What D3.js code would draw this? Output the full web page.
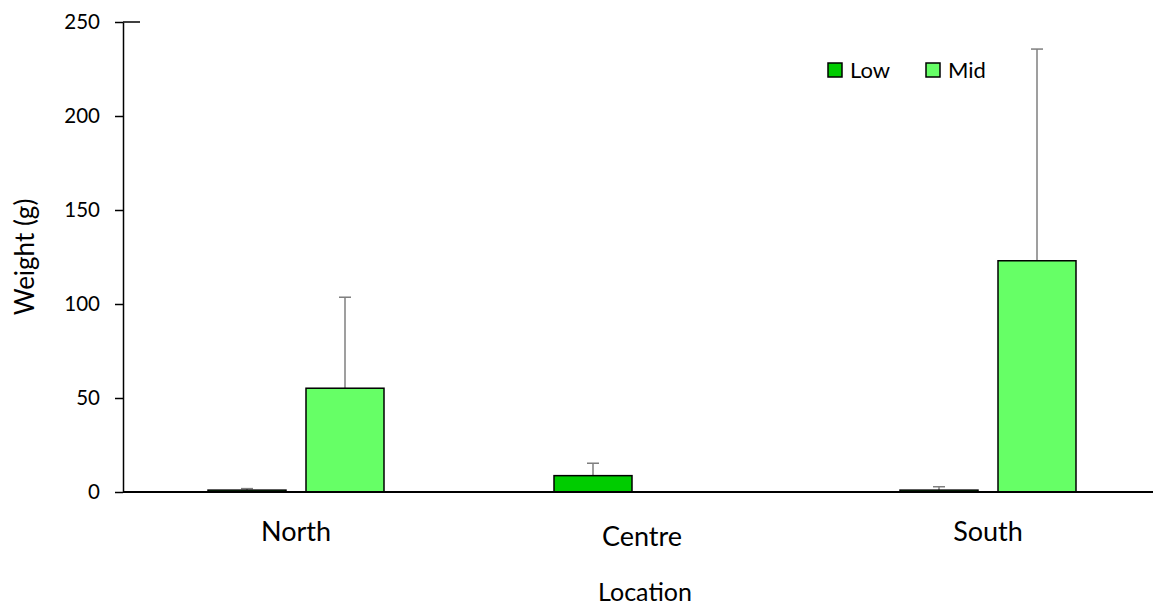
<!DOCTYPE html>
<html>
<head>
<meta charset="utf-8">
<script src="https://cdn.jsdelivr.net/npm/d3@7/dist/d3.min.js"></script>
<style>
  html, body { margin: 0; padding: 0; background: #fff; }
  svg { display: block; font-family: Lato, "Open Sans", sans-serif; }
</style>
</head>
<body>
<svg id="chart" width="1153" height="609"></svg>
<script>
// Mean weight by location and altitude band, with one-sided error bars
const categories = ["North", "Centre", "South"];
const seriesNames = ["Low", "Mid"];
const lowValues = [1.0, 8.7, 1.0];
const midValues = [55.2, null, 123.0];
const lowErrorTop = [1.8, 15.3, 2.8];
const midErrorTop = [103.6, null, 235.6];
const yTicks = [0, 50, 100, 150, 200, 250];
const seriesColors = ["#00cc00", "#66ff66"];

const svg = d3.select("#chart");
const plotLeft = 123, plotRight = 1161, plotTop = 22, plotBottom = 492;

const x0 = d3.scaleBand().domain(categories).range([plotLeft, plotRight]).padding(0);
const x1 = d3.scaleBand().domain(seriesNames).range([-88, 88]).paddingInner(20 / 98);
const y = d3.scaleLinear().domain([0, 250]).range([plotBottom, plotTop]);

const rows = categories.map((c, i) => ({
  cat: c,
  vals: [
    { s: "Low", v: lowValues[i], e: lowErrorTop[i], color: seriesColors[0] },
    { s: "Mid", v: midValues[i], e: midErrorTop[i], color: seriesColors[1] }
  ]
}));

// Error bars (drawn under bars so the stem starts at the bar top)
const eb = svg.append("g");
rows.forEach(r => {
  r.vals.filter(d => d.v != null).forEach(d => {
    const cx = x0(r.cat) + x0.bandwidth() / 2 + x1(d.s) + x1.bandwidth() / 2;
    eb.append("line").attr("x1", cx).attr("x2", cx)
      .attr("y1", y(d.v)).attr("y2", y(d.e))
      .attr("stroke", "#7f7f7f").attr("stroke-width", 1.5);
    eb.append("line").attr("x1", cx - 6).attr("x2", cx + 6)
      .attr("y1", y(d.e)).attr("y2", y(d.e))
      .attr("stroke", "#7f7f7f").attr("stroke-width", 1.5);
  });
});

// Bars
const groups = svg.append("g").selectAll("g").data(rows).join("g")
  .attr("transform", d => `translate(${x0(d.cat) + x0.bandwidth() / 2},0)`);
groups.selectAll("rect").data(d => d.vals.filter(v => v.v != null)).join("rect")
  .attr("x", d => x1(d.s))
  .attr("width", x1.bandwidth())
  .attr("y", d => y(d.v))
  .attr("height", d => y(0) - y(d.v))
  .attr("fill", d => d.color)
  .attr("stroke", "#000")
  .attr("stroke-width", 1.5);

// Y axis
const yAxis = svg.append("g").attr("transform", `translate(${plotLeft},0)`)
  .call(d3.axisLeft(y).tickValues(yTicks).tickSize(8).tickPadding(15).tickSizeOuter(0));
yAxis.select(".domain").attr("stroke", "#000").attr("stroke-width", 1.5);
yAxis.selectAll(".tick line").attr("stroke", "#000").attr("stroke-width", 1.5);
yAxis.selectAll(".tick text").attr("font-size", 20.5).attr("fill", "#000")
  .attr("font-family", "Lato, sans-serif");
// short cap to the right of the top tick
svg.append("line").attr("x1", plotLeft).attr("x2", plotLeft + 17)
  .attr("y1", y(250)).attr("y2", y(250)).attr("stroke", "#000").attr("stroke-width", 1.5);

// X axis baseline
svg.append("line").attr("x1", plotLeft).attr("x2", 1153)
  .attr("y1", y(0)).attr("y2", y(0)).attr("stroke", "#000").attr("stroke-width", 2.2);

// Category labels
const catDy = { North: 0, Centre: 5, South: 0 };
svg.append("g").selectAll("text").data(categories).join("text")
  .attr("x", d => x0(d) + x0.bandwidth() / 2)
  .attr("y", d => 540.5 + catDy[d])
  .attr("text-anchor", "middle")
  .attr("font-size", 27)
  .attr("fill", "#000")
  .text(d => d);

// Axis titles
svg.append("text").attr("x", 645).attr("y", 601).attr("text-anchor", "middle")
  .attr("font-size", 25).attr("fill", "#000").text("Location");
svg.append("text").attr("transform", "translate(34,257) rotate(-90)")
  .attr("text-anchor", "middle").attr("font-size", 26).attr("fill", "#000").text("Weight (g)");

// Legend
const legend = svg.append("g");
const legendX = [828, 926];
seriesNames.forEach((s, i) => {
  legend.append("rect").attr("x", legendX[i]).attr("y", 63).attr("width", 14).attr("height", 14)
    .attr("fill", seriesColors[i]).attr("stroke", "#000").attr("stroke-width", 1.5);
  legend.append("text").attr("x", legendX[i] + 22).attr("y", 78)
    .attr("font-size", 22).attr("fill", "#000").text(s);
});
</script>
</body>
</html>
